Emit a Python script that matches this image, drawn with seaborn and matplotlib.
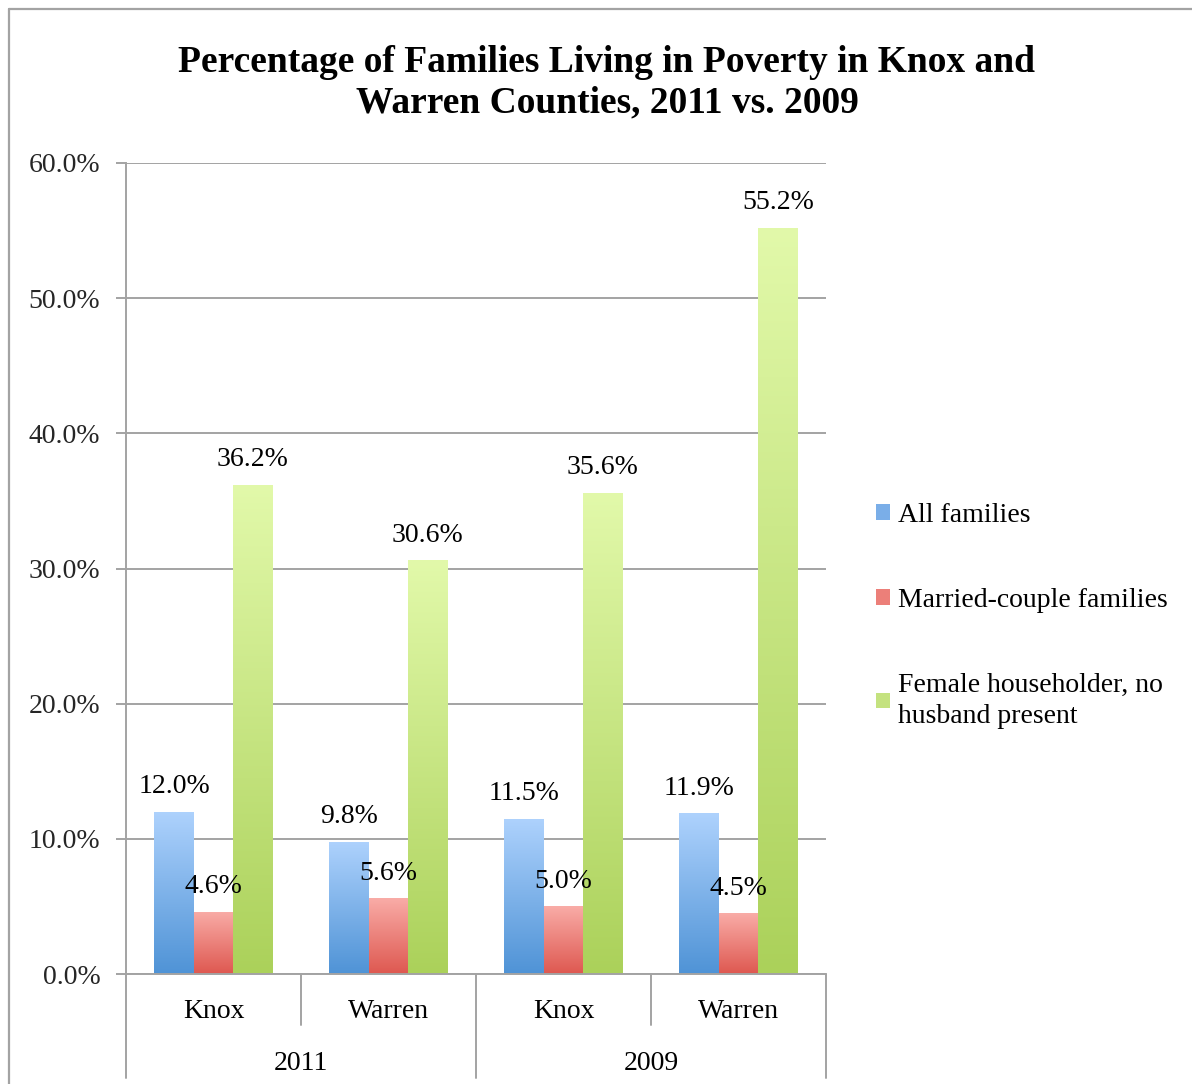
import numpy as np
import pandas as pd
import matplotlib
matplotlib.use("Agg")
import matplotlib.pyplot as plt
import matplotlib.transforms as mtransforms
from matplotlib.colors import LinearSegmentedColormap
from matplotlib.patches import Patch
from matplotlib.lines import Line2D
import seaborn as sns

# ---- data -------------------------------------------------------------
years = ["2011", "2011", "2009", "2009"]
counties = ["Knox", "Warren", "Knox", "Warren"]
series = ["All families", "Married-couple families",
          "Female householder, no husband present"]
all_families = [12.0, 9.8, 11.5, 11.9]
married_couple = [4.6, 5.6, 5.0, 4.5]
female_householder = [36.2, 30.6, 35.6, 55.2]
y_ticks = [0, 10, 20, 30, 40, 50, 60]

# ---- styling ------------------------------------------------------------
sns.set_theme(style="white")
plt.rcParams["font.family"] = ["Liberation Serif", "DejaVu Serif"]
plt.rcParams["text.color"] = "black"

FS = 20
grey = "#a3a3a3"
mid_colors = ["#7aaee8", "#ec7f79", "#c4e27f"]
gradients = {
    0: ("#aed2fd", "#4f93d6"),
    1: ("#f9aca7", "#de5850"),
    2: ("#e2f9aa", "#abd15a"),
}

cats = [f"{y} {c}" for y, c in zip(years, counties)]
df = pd.DataFrame({
    "cat": cats * 3,
    "series": np.repeat(series, len(cats)),
    "value": all_families + married_couple + female_householder,
})

W, H = 1192, 1084
fig = plt.figure(figsize=(W / 100, H / 100), dpi=100)
ax = fig.add_axes([126 / W, 1 - 974 / H, 700 / W, (974 - 163) / H])

sns.barplot(data=df, x="cat", y="value", hue="series", order=cats,
            hue_order=series, palette=mid_colors, width=0.675, gap=0,
            saturation=1, legend=False, ax=ax, edgecolor="none")

ax.set_ylim(0, 60)
ax.set_xlim(-0.5, len(cats) - 0.5)
ax.set_yticks(y_ticks)
ax.set_yticklabels([f"{v:.1f}%" for v in y_ticks], fontsize=FS)
ax.set_xticks([])
ax.set_xlabel("")
ax.set_ylabel("")
ax.yaxis.grid(True, color=grey, linewidth=1.4)
ax.set_axisbelow(True)
ax.tick_params(axis="y", length=7.5, width=1.4, color=grey, pad=11,
               left=True)
for side in ["top", "right", "bottom"]:
    ax.spines[side].set_visible(False)
ax.spines["left"].set_color(grey)
ax.spines["left"].set_linewidth(1.4)

# ---- vertical gradient fill for every bar ----------------------------------
for si, container in enumerate(ax.containers):
    top, bottom = gradients[si]
    cmap = LinearSegmentedColormap.from_list(f"g{si}", [bottom, top])
    grad = np.linspace(0, 1, 256).reshape(-1, 1)
    for bar in container:
        x0, y0 = bar.get_x(), bar.get_y()
        w, h = bar.get_width(), bar.get_height()
        bar.set_facecolor("none")
        im = ax.imshow(grad, cmap=cmap, origin="lower", aspect="auto",
                       extent=(x0, x0 + w, y0, y0 + h), zorder=2,
                       interpolation="bicubic")
        im.set_clip_path(bar)
    ax.bar_label(container, fmt="%.1f%%", padding=9, fontsize=FS,
                 zorder=5)
ax.set_xlim(-0.5, len(cats) - 0.5)
ax.set_ylim(0, 60)

# ---- two-level category axis ------------------------------------------------
tr = mtransforms.blended_transform_factory(ax.transData, fig.transFigure)
y_axis = 1 - 974 / H
y_short = 1 - 1025 / H
y_long = 1 - 1078 / H
for xb in np.arange(-0.5, len(cats), 1.0):
    long = int(round(xb + 0.5)) % 2 == 0
    ax.add_line(Line2D([xb, xb], [y_axis, y_long if long else y_short],
                       transform=tr, color=grey, linewidth=1.4,
                       clip_on=False))
ax.add_line(Line2D([-0.5, len(cats) - 0.5], [y_axis, y_axis], transform=tr,
                   color=grey, linewidth=1.4, clip_on=False))
for i, c in enumerate(counties):
    ax.text(i, 1 - 1012 / H, c, transform=tr, ha="center", va="center",
            fontsize=FS)
for j in range(0, len(years), 2):
    ax.text(j + 0.5, 1 - 1064 / H, years[j], transform=tr, ha="center",
            va="center", fontsize=FS)

# ---- legend -----------------------------------------------------------------
handles = [Patch(facecolor=c, edgecolor="none") for c in mid_colors]
labels = ["All families", "Married-couple families",
          "Female householder, no\nhusband present"]
leg = fig.legend(handles, labels, loc="upper left",
                 bbox_to_anchor=(876 / W, 1 - 503 / H), frameon=False,
                 fontsize=FS, handlelength=0.5, handleheight=0.5,
                 handletextpad=0.3, labelspacing=2.15, borderpad=0,
                 borderaxespad=0)
for t in leg.get_texts():
    t.set_linespacing(1.36)

# ---- title and outer frame --------------------------------------------------
fig.text(607 / W, 1 - 83 / H,
         "Percentage of Families Living in Poverty in Knox and\n"
         "Warren Counties, 2011 vs. 2009",
         ha="center", va="center", fontsize=27, fontweight="bold",
         linespacing=1.22)
fig.add_artist(Line2D([9 / W, 1], [1 - 9 / H, 1 - 9 / H], color=grey,
                      linewidth=1.6, transform=fig.transFigure))
fig.add_artist(Line2D([9 / W, 9 / W], [0, 1 - 9 / H], color=grey,
                      linewidth=1.6, transform=fig.transFigure))

fig.savefig("out.png", dpi=100)
